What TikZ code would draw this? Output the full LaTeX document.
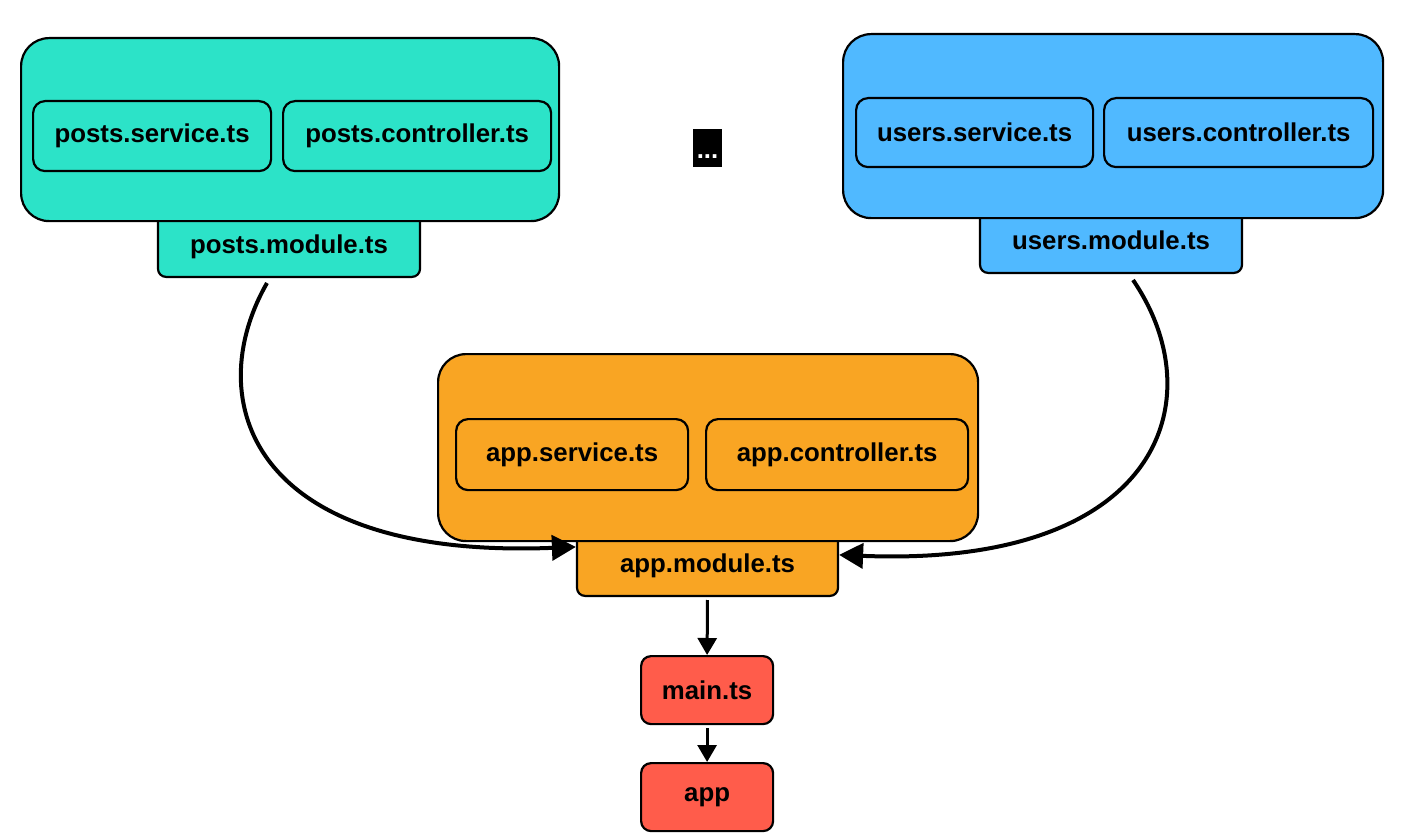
\documentclass[tikz,border=0pt]{standalone}
\usepackage{fontspec}
\setmainfont{Liberation Sans}
\usetikzlibrary{arrows.meta}

\definecolor{postsgreen}{RGB}{44,227,200}
\definecolor{usersblue}{RGB}{80,185,255}
\definecolor{apporange}{RGB}{249,165,35}
\definecolor{mainred}{RGB}{255,92,75}

\tikzset{
	group/.style={draw=black, line width=2.2pt, rounded corners=28pt, anchor=north west, inner sep=0pt},
	file/.style={draw=black, line width=2.2pt, rounded corners=12pt, anchor=north west,
		font=\fontsize{25.8}{30}\selectfont\bfseries, inner sep=0pt},
	modfile/.style={file, rounded corners=8pt, anchor=south, text height=55pt, text depth=13pt, inner ysep=10pt},
	flow/.style={line width=4pt, -{Triangle[length=24pt,width=25pt]}},
	thinflow/.style={line width=3pt, shorten <=3pt, -{Triangle[length=17pt,width=19pt]}}
}

\begin{document}
\begin{tikzpicture}[x=1pt,y=-1pt]
	\useasboundingbox (0,0) rectangle (1403,840);

	% module files sit under their groups
	\node[modfile, fill=postsgreen, minimum width=262pt] (postsmod) at (289,278) {posts.module.ts};
	\node[modfile, fill=usersblue, minimum width=262pt] (usersmod) at (1111,274) {users.module.ts};
	\node[modfile, fill=apporange, minimum width=261pt] (appmod) at (707.5,597) {app.module.ts};

	% groups
	\node[group, fill=postsgreen, minimum width=538pt, minimum height=183pt] (posts) at (20,37) {};
	\node[group, fill=usersblue, minimum width=540pt, minimum height=184pt] (users) at (842,33) {};
	\node[group, fill=apporange, minimum width=540pt, minimum height=187pt] (app) at (437,353) {};

	% files
	\node[file, fill=postsgreen, minimum width=238pt, minimum height=70pt] (postssvc) at (32,100) {posts.service.ts};
	\node[file, fill=postsgreen, minimum width=268pt, minimum height=70pt] (postsctl) at (282,100) {posts.controller.ts};
	\node[file, fill=usersblue, minimum width=237pt, minimum height=69pt] (userssvc) at (855,97) {users.service.ts};
	\node[file, fill=usersblue, minimum width=269pt, minimum height=69pt] (usersctl) at (1103,97) {users.controller.ts};
	\node[file, fill=apporange, minimum width=232pt, minimum height=71pt] (appsvc) at (455,418) {app.service.ts};
	\node[file, fill=apporange, minimum width=262pt, minimum height=71pt] (appctl) at (705,418) {app.controller.ts};

	\node[file, fill=black, text=white, draw=none, rounded corners=0pt, anchor=south,
		text height=22pt, text depth=0pt, inner xsep=3.5pt, inner ysep=8pt] (more) at (707.5,168) {...};

	\node[file, fill=mainred, rounded corners=10pt, minimum width=132pt, minimum height=68pt] (main) at (640,655) {main.ts};
	\node[file, fill=mainred, rounded corners=10pt, minimum width=132pt, minimum height=68pt] (run) at (640,762) {app};

	% imports
	\draw[flow] ([xshift=-22pt,yshift=-5pt]postsmod.south) .. controls (200,400) and (250,560) .. ([yshift=5pt]appmod.west);
	\draw[flow] ([xshift=22pt,yshift=-6pt]usersmod.south) .. controls (1215,400) and (1160,568) .. ([yshift=-3pt]appmod.east);
	\draw[thinflow] (appmod.south) -- (main.north);
	\draw[thinflow] (main.south) -- (run.north);
\end{tikzpicture}
\end{document}
